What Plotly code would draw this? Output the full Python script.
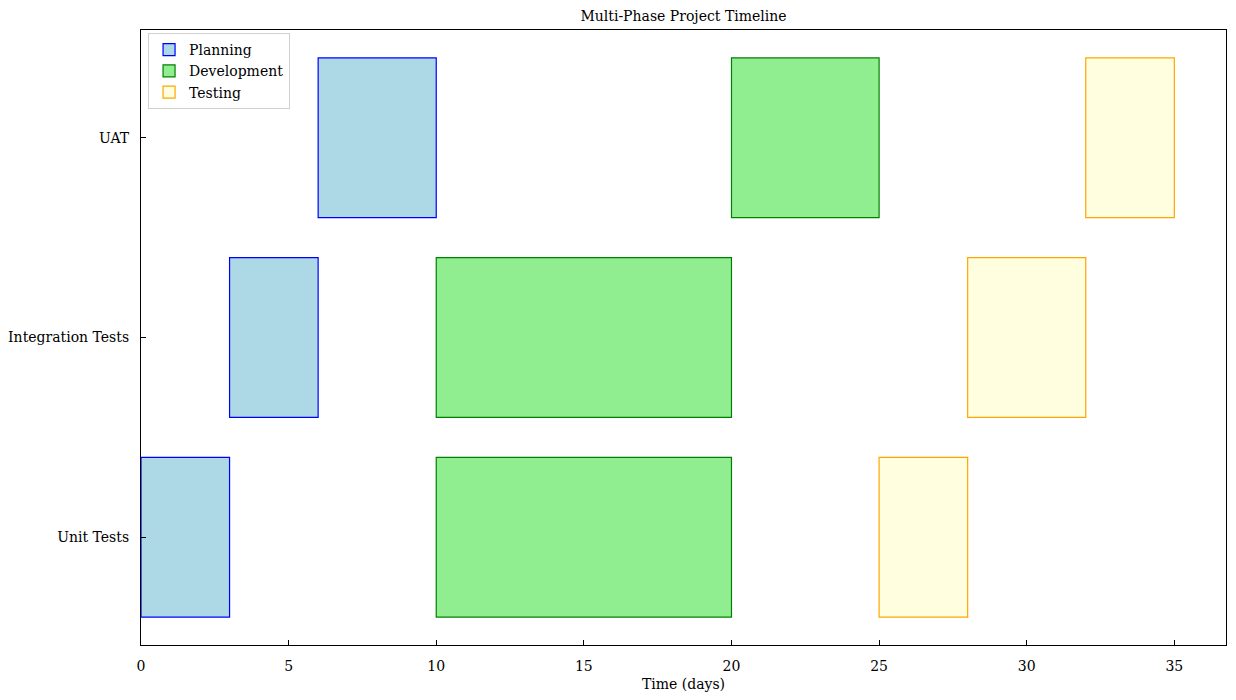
import plotly.graph_objects as go

tasks = ["Unit Tests", "Integration Tests", "UAT"]
phases = ["Planning", "Development", "Testing"]
starts = {
    "Planning": [0, 3, 6],
    "Development": [10, 10, 20],
    "Testing": [25, 28, 32],
}
durations = {
    "Planning": [3, 3, 4],
    "Development": [10, 10, 5],
    "Testing": [3, 4, 3],
}
fills = {"Planning": "#ADD8E6", "Development": "#90EE90", "Testing": "#FFFFE0"}
edges = {"Planning": "#0000FF", "Development": "#008000", "Testing": "#FFA500"}
xticks = [0, 5, 10, 15, 20, 25, 30, 35]

FONT = "DejaVu Serif"
FS = 14

fig = go.Figure()
for p in phases:
    fig.add_trace(go.Bar(
        y=list(range(len(tasks))),
        x=durations[p],
        base=starts[p],
        orientation="h",
        width=0.8,
        name=p,
        marker=dict(color=fills[p], line=dict(color=edges[p], width=1.2)),
    ))

W, H = 1220, 684
L, T = 133, 22
PR, PB = 1218, 637
fig.update_layout(
    width=W, height=H,
    barmode="overlay",
    plot_bgcolor="white", paper_bgcolor="white",
    margin=dict(l=L, r=W - PR, t=T, b=H - PB, pad=0, autoexpand=False),
    font=dict(family=FONT, size=FS, color="black"),
    title=dict(text="Multi-Phase Project Timeline", x=(L + PR) / 2 / W, xanchor="center",
               y=1 - 8 / H, yanchor="middle", font=dict(family=FONT, size=FS)),
    showlegend=True,
    legend=dict(x=0.0065, y=0.995, xanchor="left", yanchor="top",
                bgcolor="white", bordercolor="#D0D0D0", borderwidth=1,
                font=dict(family=FONT, size=FS), tracegroupgap=0),
    xaxis=dict(range=[0, 36.75], tickvals=xticks, ticks="inside", ticklen=5, tickwidth=1,
               tickcolor="black", showline=True, linecolor="black", linewidth=1.2, mirror=True,
               showgrid=False, zeroline=False, ticklabelstandoff=8, automargin=False,
               title=dict(text="Time (days)", standoff=6, font=dict(family=FONT, size=FS))),
    yaxis=dict(range=[-0.54, 2.54], tickvals=list(range(len(tasks))), ticktext=tasks,
               ticks="inside", ticklen=5, tickwidth=1, tickcolor="black",
               showline=True, linecolor="black", linewidth=1.2, mirror=True,
               showgrid=False, zeroline=False, ticklabelstandoff=8, automargin=False),
)

fig.write_html("out.html")
